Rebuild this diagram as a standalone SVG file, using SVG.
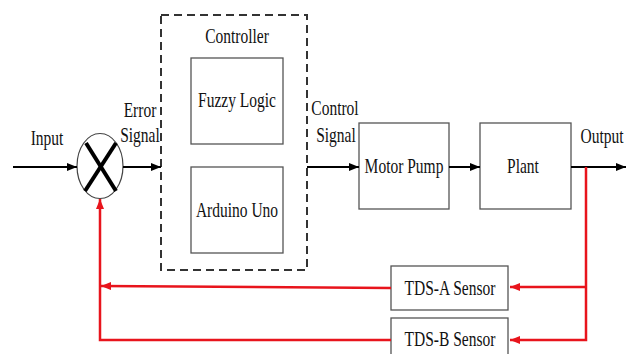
<svg xmlns="http://www.w3.org/2000/svg" width="629" height="354" viewBox="0 0 629 354">
<defs>
<marker id="ab" markerWidth="10" markerHeight="8" refX="10" refY="4" orient="auto" markerUnits="userSpaceOnUse"><path d="M0,0 L10,4 L0,8 Z" fill="#000"/></marker>
<marker id="ar" markerWidth="10" markerHeight="8" refX="10" refY="4" orient="auto" markerUnits="userSpaceOnUse"><path d="M0,0 L10,4 L0,8 Z" fill="#e8141c"/></marker>
</defs>
<style>
text{font-family:'Liberation Serif','Times New Roman','DejaVu Serif',serif;font-size:15.5px;fill:#111;text-anchor:middle}
.box{fill:#fff;stroke:#555;stroke-width:1.3}
.blk{stroke:#000;stroke-width:2;fill:none}
.red{stroke:#e8141c;stroke-width:2.5;fill:none}
</style>
<rect width="629" height="354" fill="#fff"/>
<g id="controller">
<rect x="161" y="15" width="146" height="255" fill="none" stroke="#333" stroke-width="2" stroke-dasharray="8,5"/>
<text font-family="Liberation Serif, serif" transform="translate(237,43) scale(1,1.3)">Controller</text>
</g>
<g id="fuzzy">
<rect class="box" x="191" y="58" width="92" height="86"/>
<text font-family="Liberation Serif, serif" transform="translate(237,107) scale(1,1.3)">Fuzzy Logic</text>
</g>
<g id="arduino">
<rect class="box" x="191" y="167" width="92" height="86"/>
<text font-family="Liberation Serif, serif" transform="translate(237,217) scale(1,1.3)">Arduino Uno</text>
</g>
<g id="motor">
<rect class="box" x="359" y="123" width="90" height="86"/>
<text font-family="Liberation Serif, serif" transform="translate(404,173) scale(1,1.3)">Motor Pump</text>
</g>
<g id="plant">
<rect class="box" x="480" y="123" width="91" height="86"/>
<text font-family="Liberation Serif, serif" transform="translate(523,173) scale(1,1.3)">Plant</text>
</g>
<g id="tdsa">
<rect class="box" x="391" y="266" width="117" height="44"/>
<text font-family="Liberation Serif, serif" transform="translate(450,295) scale(1,1.3)">TDS-A Sensor</text>
</g>
<g id="tdsb">
<rect class="box" x="391" y="318" width="117" height="44"/>
<text font-family="Liberation Serif, serif" transform="translate(450,346) scale(1,1.3)">TDS-B Sensor</text>
</g>
<g id="sum">
<ellipse cx="100" cy="166" rx="23" ry="32.5" fill="#fff" stroke="#444" stroke-width="1.2"/>
<line x1="86" y1="143" x2="116" y2="191" stroke="#000" stroke-width="4"/>
<line x1="116" y1="143" x2="85" y2="191" stroke="#000" stroke-width="4"/>
</g>
<g id="connectors">
<line class="blk" x1="13" y1="167" x2="77" y2="167" marker-end="url(#ab)"/>
<line class="blk" x1="123" y1="167" x2="161" y2="167" marker-end="url(#ab)"/>
<line class="blk" x1="307" y1="167" x2="359" y2="167" marker-end="url(#ab)"/>
<line class="blk" x1="449" y1="167" x2="480" y2="167" marker-end="url(#ab)"/>
<line class="blk" x1="571" y1="167" x2="626" y2="167" marker-end="url(#ab)"/>
<polyline class="red" points="586,167 586,340 510,340" marker-end="url(#ar)"/>
<line class="red" x1="586" y1="287" x2="510" y2="287" marker-end="url(#ar)"/>
<line class="red" x1="391" y1="288" x2="101" y2="286" marker-end="url(#ar)"/>
<polyline class="red" points="391,340 100,340 100,199" marker-end="url(#ar)"/>
</g>
<g id="labels" font-family="Liberation Serif, serif">
<text transform="translate(47,145) scale(1,1.3)">Input</text>
<text transform="translate(140,117) scale(1,1.3)">Error</text>
<text transform="translate(140,142) scale(1,1.3)">Signal</text>
<text transform="translate(335,115) scale(1,1.3)">Control</text>
<text transform="translate(336,142) scale(1,1.3)">Signal</text>
<text transform="translate(602,143) scale(1,1.3)">Output</text>
</g>
</svg>
